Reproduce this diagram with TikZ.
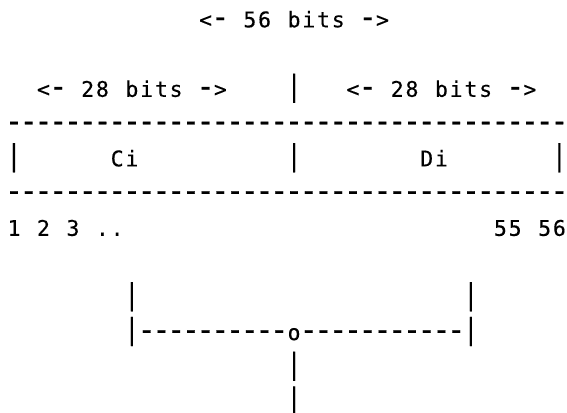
\documentclass[tikz,border=0pt]{standalone}
\usepackage{fontspec}
\usepackage{graphicx}
\newfontfamily\asciifont[FakeBold=0.3]{DejaVu Sans Mono}

% width of one character cell of the grid
\newlength\cellw
\setlength\cellw{14.74pt}

% bar and dash are drawn larger than the font's own glyphs
\newcommand\tallbar{\raisebox{0.9pt}{\scalebox{1.1}[1.355]{|}}}
\newcommand\longdash{\scalebox{1.4}[1.45]{-}}

% set a string character by character, one fixed-width cell each
\ExplSyntaxOn
\NewDocumentCommand\gridtext{m}
 {
  \str_map_inline:nn {#1}
   {
    \str_case:nnF {##1}
     {
      {|} { \makebox[\cellw][c]{\tallbar} }
      {-} { \makebox[\cellw][c]{\longdash} }
     }
     { \makebox[\cellw][c]{##1} }
   }
 }
\ExplSyntaxOff

\tikzset{
  ascii/.style={anchor=base west, inner sep=0pt, outer sep=0pt,
    font=\asciifont\fontsize{21.5pt}{24pt}\selectfont, text=black}
}

\begin{document}
\begin{tikzpicture}
\useasboundingbox (0pt,0pt) rectangle (567pt,-412pt);
\begin{scope}[shift={(6.63pt,-27.3pt)}, x=14.74pt, y=-34.75pt]
  % key width above the register
  \node[ascii] (total) at (13,0) {\gridtext{<- 56 bits ->}};
  \node[ascii] (lefthalf) at (2,2) {\gridtext{<- 28 bits ->}};
  \node[ascii] (split) at (19,2) {\gridtext{|}};
  \node[ascii] (righthalf) at (23,2) {\gridtext{<- 28 bits ->}};
  % the register with its two halves
  \node[ascii] (ruletop) at (0,3) {\gridtext{--------------------------------------}};
  \node[ascii] (leftbar) at (0,4) {\gridtext{|}};
  \node[ascii] (ci) at (7,4) {\gridtext{Ci}};
  \node[ascii] (midbar) at (19,4) {\gridtext{|}};
  \node[ascii] (di) at (28,4) {\gridtext{Di}};
  \node[ascii] (rightbar) at (37,4) {\gridtext{|}};
  \node[ascii] (rulebot) at (0,5) {\gridtext{--------------------------------------}};
  % bit numbering
  \node[ascii] (firstbits) at (0,6) {\gridtext{1 2 3 ..}};
  \node[ascii] (lastbits) at (33,6) {\gridtext{55 56}};
  % joining the two halves
  \node[ascii] (legl) at (8,8) {\gridtext{|}};
  \node[ascii] (legr) at (31,8) {\gridtext{|}};
  \node[ascii] (join) at (8,9) {\gridtext{|----------o-----------|}};
  \node[ascii] (stem1) at (19,10) {\gridtext{|}};
  \node[ascii] (stem2) at (19,11) {\gridtext{|}};
\end{scope}
\end{tikzpicture}
\end{document}
